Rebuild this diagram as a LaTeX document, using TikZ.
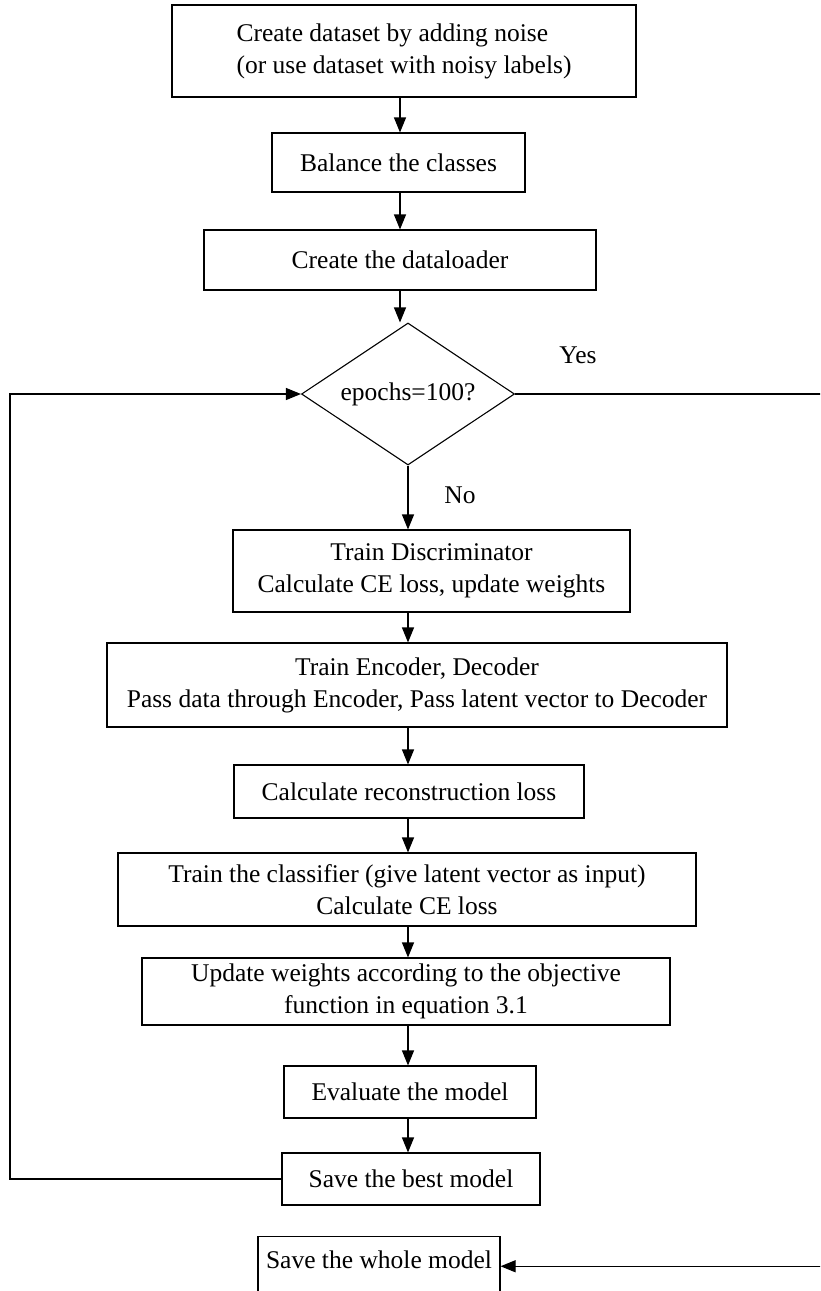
\documentclass[tikz,border=0pt]{standalone}
\usepackage{fontspec}
\setmainfont{Liberation Serif}
\usetikzlibrary{shapes.geometric,arrows.meta}
\begin{document}
\begin{tikzpicture}[x=1pt,y=-1pt,
  box/.style={draw,line width=1.1pt,align=center,inner sep=2pt,
    font=\fontsize{25.5}{32}\selectfont},
  lab/.style={font=\fontsize{25.5}{32}\selectfont},
  arr/.style={line width=1.1pt,-{Triangle[length=15pt,width=12pt]}},
  con/.style={line width=1.1pt}]
\useasboundingbox (0,0) rectangle (820,1291);
\clip (0,0) rectangle (820,1291);
\fill[white] (0,0) rectangle (820,1291);
\coordinate (spA) at (400,0);
\coordinate (spB) at (408,0);
\coordinate (lf) at (10,0);
\coordinate (rt) at (823,0);

\node[box,minimum width=464,minimum height=92,align=left] (create) at (404,51)
  {Create dataset by adding noise\\ (or use dataset with noisy labels)};
\node[box,minimum width=253,minimum height=59] (balance) at (398.5,162.5) {Balance the classes};
\node[box,minimum width=392,minimum height=60] (loader) at (400,260) {Create the dataloader};
\node[box,shape=diamond,aspect=1.5,minimum width=213,minimum height=142,inner sep=0pt] (epochs) at (408,394) {epochs=100?};
\node[lab] (yes) at (578,355) {Yes};
\node[lab] (no) at (460,495) {No};
\node[box,minimum width=397,minimum height=82] (disc) at (431.5,571)
  {Train Discriminator\\Calculate CE loss, update weights};
\node[box,minimum width=620,minimum height=84] (enc) at (417,685)
  {Train Encoder, Decoder\\Pass data through Encoder, Pass latent vector to Decoder};
\node[box,minimum width=350,minimum height=53] (recon) at (409,791.5) {Calculate reconstruction loss};
\node[box,minimum width=578,minimum height=73] (cls) at (407,889.5)
  {Train the classifier (give latent vector as input)\\Calculate CE loss};
\node[box,minimum width=528,minimum height=67] (upd) at (406,991.5)
  {Update weights according to the objective\\function in equation 3.1};
\node[box,minimum width=252,minimum height=52] (eval) at (410,1092) {Evaluate the model};
\node[box,minimum width=258,minimum height=52] (best) at (411,1179) {Save the best model};
\node[box,minimum width=242,text height=26pt,text depth=40pt,inner ysep=6pt,anchor=north] (whole) at (379,1236) {Save the whole model};

\draw[arr] (create.south -| spA) -- (balance.north -| spA);
\draw[arr] (balance.south -| spA) -- (loader.north -| spA);
\draw[arr] (loader.south -| spA) -- (epochs.north -| spA);
\draw[arr] (epochs.south) -- (disc.north -| epochs.south);
\draw[arr] (disc.south -| spB) -- (enc.north -| spB);
\draw[arr] (enc.south -| spB) -- (recon.north -| spB);
\draw[arr] (recon.south -| spB) -- (cls.north -| spB);
\draw[arr] (cls.south -| spB) -- (upd.north -| spB);
\draw[arr] (upd.south -| spB) -- (eval.north -| spB);
\draw[arr] (eval.south -| spB) -- (best.north -| spB);
\draw[arr] (best.west) -| (lf |- epochs.west) -- (epochs.west);
\draw[arr] (epochs.east) -| (rt |- whole.mid east) -- (whole.mid east);
\end{tikzpicture}
\end{document}
